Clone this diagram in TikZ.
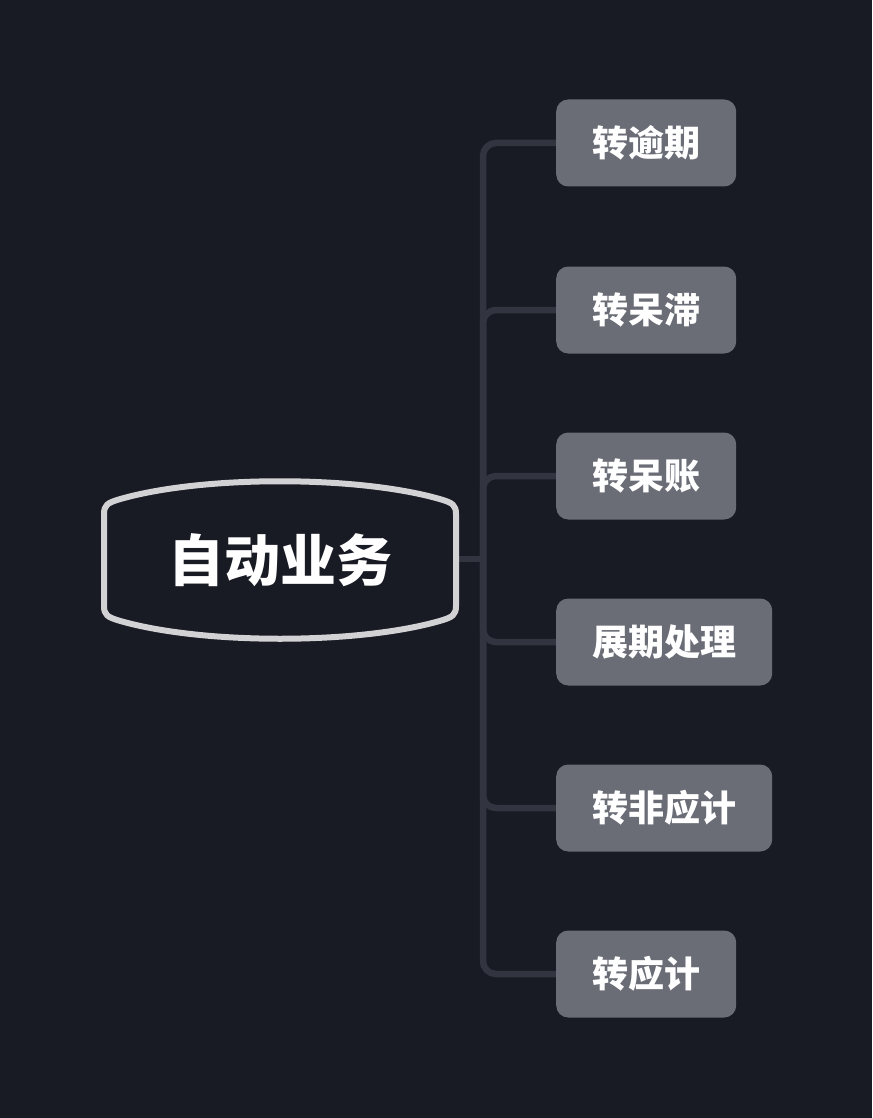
\documentclass[tikz,border=0pt]{standalone}
\usepackage{fontspec}
\newfontfamily\cjk{Noto Sans CJK SC}
\definecolor{bgcol}{HTML}{181A24}
\definecolor{linkcol}{HTML}{32343F}
\definecolor{boxcol}{HTML}{6A6C76}
\definecolor{rimcol}{HTML}{D2D2D4}
\usetikzlibrary{positioning,backgrounds}

\begin{document}
\begin{tikzpicture}[x=1pt,y=-1pt,
    leaf/.style={fill=boxcol,rounded corners=12pt,anchor=west,minimum height=87pt,inner xsep=36pt,
      text=white,font=\cjk\bfseries\fontsize{36}{36}\selectfont},
    link/.style={draw=linkcol,line width=6.5pt,rounded corners=13pt}]
    \useasboundingbox (0,0) rectangle (872,1118);
    \node[text=white,font=\cjk\bfseries\fontsize{56}{56}\selectfont] (root) at (280,560) {自动业务};
    \coordinate (rim) at (456,559);
    \coordinate (hub) at (483,559);
    \node[leaf] (c1) at (556,143) {转逾期};
    \node[leaf] (c2) at (556,310) {转呆滞};
    \node[leaf] (c3) at (556,476) {转呆账};
    \node[leaf] (c4) at (556,642) {展期处理};
    \node[leaf] (c5) at (556,808) {转非应计};
    \node[leaf] (c6) at (556,974) {转应计};
    \begin{scope}[on background layer]
        \fill[bgcol] (0,0) rectangle (872,1118);
        \draw[link] (rim) -- (hub);
        \foreach \c in {c1,c2,c3,c4,c5,c6}
            \draw[link] (hub) |- (\c.west);
        \draw[rimcol,line width=6pt,fill=bgcol] (104,514) .. controls (104,505) and (108,503) .. (117,500)
            .. controls (200,475) and (360,475) .. (443,500) .. controls (452,503) and (456,505) .. (456,514)
            -- (rim) -- (456,606) .. controls (456,615) and (452,617) .. (443,620)
            .. controls (360,645) and (200,645) .. (117,620) .. controls (108,617) and (104,615) .. (104,606) -- cycle;
    \end{scope}
\end{tikzpicture}
\end{document}
